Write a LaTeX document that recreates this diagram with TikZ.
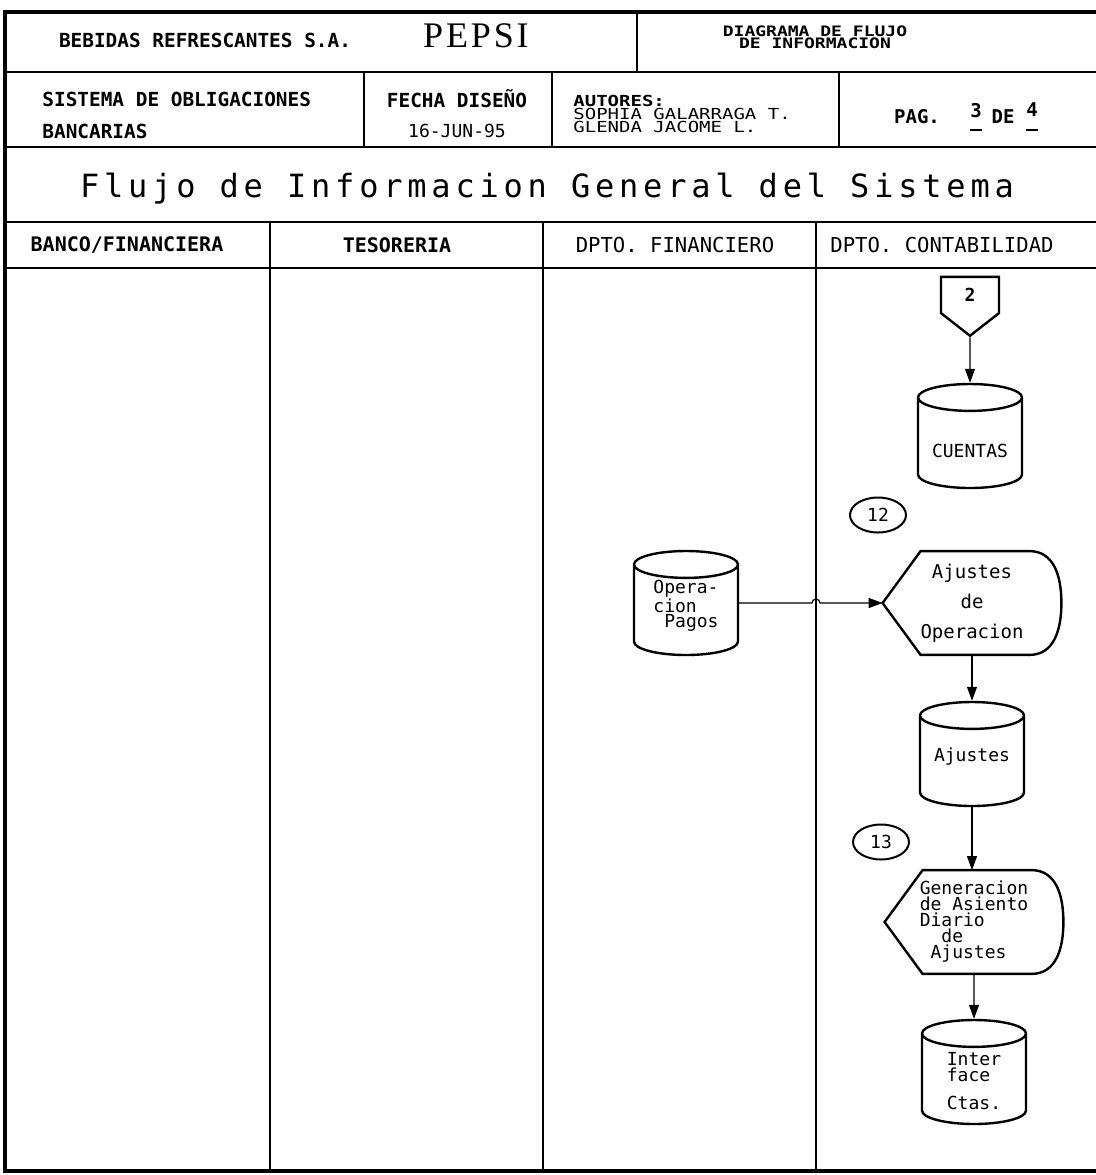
\documentclass[tikz,border=0pt]{standalone}
\usepackage{fontspec}
\setmainfont{DejaVu Sans Mono}
\newfontfamily\serifpepsi{Liberation Serif}
\usepackage{graphicx}
\usetikzlibrary{shapes.geometric, shapes.symbols, arrows.meta, calc}

\newcommand\chato[1]{\scalebox{1}[0.8]{#1}}
\newcommand\subrayado[1]{\rlap{\rule[-7pt]{0.6em}{1.1pt}}#1}
\newcommand\letra[2]{\fontsize{#1}{#2}\selectfont}

\begin{document}
\begin{tikzpicture}[x=0.5pt, y=-0.5pt,
                    every node/.style={inner sep=1pt},
                    marco/.style={line width=1.6pt},
                    fila/.style={line width=1pt},
                    carril/.style={line width=0.6pt},
                    flecha/.style={line width=0.6pt, -{Triangle[length=7pt,width=5pt]}},
                    borde/.style={line width=1.2pt},
                    datos/.style={cylinder, shape border rotate=90, draw, borde,
                      aspect=0.32, text width=40pt, text height=7pt,
                      minimum width=52pt, minimum height=52pt, anchor=shape center},
                    rotulo/.style={align=left, font=\letra{9}{8}},
                    proceso/.style={minimum width=89pt, minimum height=51.5pt},
                    llamada/.style={ellipse, draw, line width=1pt, minimum width=28pt,
                      minimum height=17.5pt, font=\letra{9}{10}},
                    conector/.style={signal, signal to=south, draw, borde,
                      minimum width=29pt, minimum height=21pt,
                      signal pointer angle=104, font=\letra{9}{10}\bfseries},
                    cabeza/.style={font=\letra{10.3}{12}}]
\useasboundingbox (0,0) rectangle (1096,1175);

% marco y filas del encabezado
\draw[marco] (1096,12) -- (5,12) -- (5,1171) -- (1096,1171);
\draw[fila] (5,72) -- (1096,72);
\draw[fila] (5,147) -- (1096,147);
\draw[fila] (5,222) -- (1096,222);
\draw[fila] (5,268) -- (1096,268);
\draw[fila] (637,12) -- (637,72);
\foreach \x in {364,552,839}
  \draw[fila] (\x,72) -- (\x,147);
\foreach \x in {270,543,816}
  \draw[carril] (\x,222) -- (\x,1171);

% encabezado
\node[font=\letra{9.7}{12}\bfseries] (empresa) at (205,40) {BEBIDAS REFRESCANTES S.A.};
\node[font=\serifpepsi\letra{18}{20}\addfontfeatures{LetterSpace=8}] (pepsi) at (476,36) {PEPSI};
\node[font=\letra{9}{6}\bfseries, align=center] (tipo) at (815,37)
  {\chato{DIAGRAMA DE FLUJO}\\\chato{DE INFORMACION}};
\node[font=\letra{9.7}{12}\bfseries, anchor=west] (sist1) at (40,99) {SISTEMA DE OBLIGACIONES};
\node[font=\letra{9.7}{12}\bfseries, anchor=west] (sist2) at (40,131) {BANCARIAS};
\node[font=\letra{9.7}{12}\bfseries] (fecha) at (457,99) {FECHA DISEÑO};
\node[font=\letra{9}{12}] (dia) at (457,131) {16-JUN-95};
\node[font=\letra{9.5}{6.3}, align=left, anchor=west] (autores) at (571,114)
  {\chato{\bfseries AUTORES:}\\\chato{SOPHIA GALARRAGA T.}\\\chato{GLENDA JACOME L.}};
\node[font=\letra{9.5}{12}\bfseries] (pag) at (917,117) {PAG.};
\node[font=\letra{9.5}{12}\bfseries] (pag3) at (976,117) {\subrayado{3}};
\node[font=\letra{9.5}{12}\bfseries] (pagde) at (1003,117) {DE};
\node[font=\letra{9.5}{12}\bfseries] (pag4) at (1032,117) {\subrayado{4}};
\node[font=\letra{16}{18}\addfontfeatures{LetterSpace=15}] (titulo) at (547,189)
  {Flujo de Informacion General del Sistema};

% carriles
\node[cabeza, font=\bfseries] (banco) at (127,245) {BANCO/FINANCIERA};
\node[cabeza, font=\bfseries] (teso) at (397,245) {TESORERIA};
\node[cabeza] (finan) at (675,245) {DPTO. FINANCIERO};
\node[cabeza] (conta) at (942,245) {DPTO. CONTABILIDAD};

% diagrama
\node[conector] (c2) at (970,295) {2};
\node[datos] (cuentas) at (970,436) {};
\node[rotulo] (cuentast) at ($(cuentas.shape center)+(0,15)$) {CUENTAS};
\node[llamada] (n12) at (878,515) {12};
\node[datos] (opag) at (686,603) {};
\node[rotulo, font=\letra{9}{7.5}] (opagt) at ($(opag.shape center)+(0,3)$)
  {Opera-\\cion\\\phantom{0}Pagos};
\node[proceso, font=\letra{9.5}{15}, align=center] (aop) at (972,603) {Ajustes\\de\\Operacion};
\node[datos] (ajustes) at (972,754) {};
\node[rotulo] (ajustest) at ($(ajustes.shape center)+(0,3)$) {Ajustes};
\node[llamada] (n13) at (881,842) {13};
\node[proceso, font=\letra{9}{8}, align=left] (gen) at (974,922)
  {Generacion\\de Asiento\\Diario\\\phantom{00}de\\\phantom{0}Ajustes};
\node[datos] (int) at (974,1072) {};
\node[rotulo] (intt) at ($(int.shape center)+(0,9)$) {Inter\\face\\[6pt]Ctas.};

\foreach \n in {aop,gen}
  \draw[borde] (\n.west) -- ([xshift=19pt]\n.north west) -- ([xshift=-16pt]\n.north east)
    .. controls ([xshift=-4pt]\n.north east) and ([yshift=14pt]\n.east) .. (\n.east)
    .. controls ([yshift=-14pt]\n.east) and ([xshift=-4pt]\n.south east) .. ([xshift=-16pt]\n.south east)
    -- ([xshift=19pt]\n.south west) -- cycle;

\coordinate (cruce) at (816,603);
\draw[flecha] (c2.south) -- (cuentas.north);
\draw[flecha] (opag.east |- aop.west) -- ([xshift=-2pt]cruce)
  arc[start angle=180, end angle=0, radius=2pt] -- (aop.west);
\draw[flecha] (aop.south) -- (aop.south |- ajustes.north);
\draw[flecha] (ajustes.south) -- (ajustes.south |- gen.north);
\draw[flecha] (gen.south) -- (int.north);
\end{tikzpicture}
\end{document}
